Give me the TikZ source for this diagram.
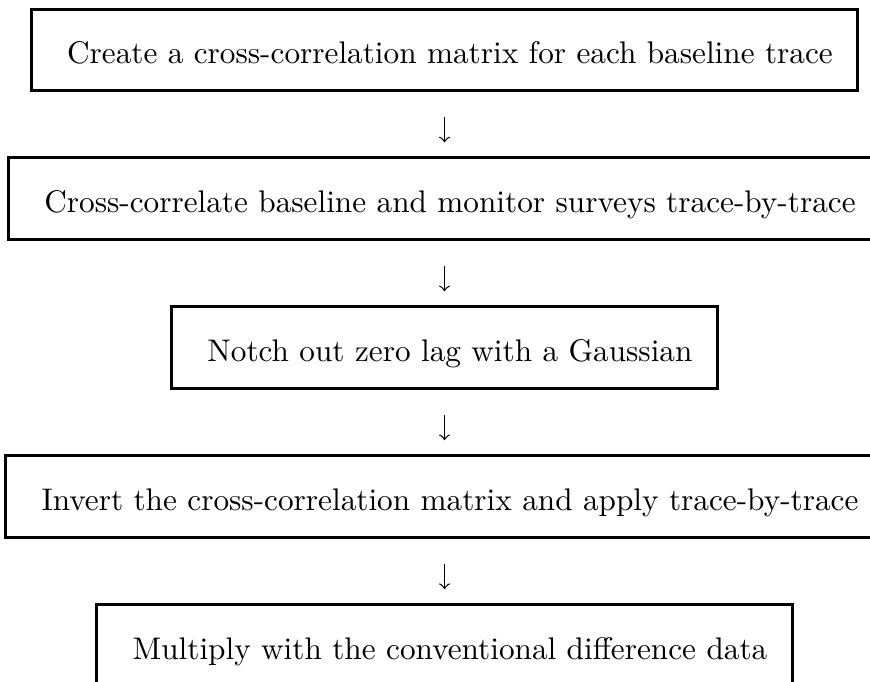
\documentclass[tikz,border=0pt]{standalone}
\usetikzlibrary{positioning}
\tikzset{flowbox/.style={draw,line width=0.95pt,inner xsep=8pt,inner ysep=4pt,text height=13.4pt,text depth=4.8pt},
  flowarrow/.style={-to,line width=0.4pt,shorten <=8pt,shorten >=4.5pt}}

\begin{document}
\begin{tikzpicture}[node distance=20.5pt]
\useasboundingbox (0,0) rectangle (278.4pt,-218.24pt);
\clip (0,0) rectangle (278.4pt,-218.24pt);
\node[flowbox] (corr) at (142.24pt,-16pt) {\hspace{3.5pt}Create a cross-correlation matrix for each baseline trace};
\node[flowbox,below=of corr] (xcorr) {\hspace{3.5pt}Cross-correlate baseline and monitor surveys trace-by-trace};
\node[flowbox,below=of xcorr] (notch) {\hspace{3.5pt}Notch out zero lag with a Gaussian};
\node[flowbox,below=of notch] (invert) {\hspace{3.5pt}Invert the cross-correlation matrix and apply trace-by-trace};
\node[flowbox,below=of invert] (mult) {\hspace{3.5pt}Multiply with the conventional difference data};
\draw[flowarrow] (corr) -- (xcorr);
\draw[flowarrow] (xcorr) -- (notch);
\draw[flowarrow] (notch) -- (invert);
\draw[flowarrow] (invert) -- (mult);
\end{tikzpicture}
\end{document}
